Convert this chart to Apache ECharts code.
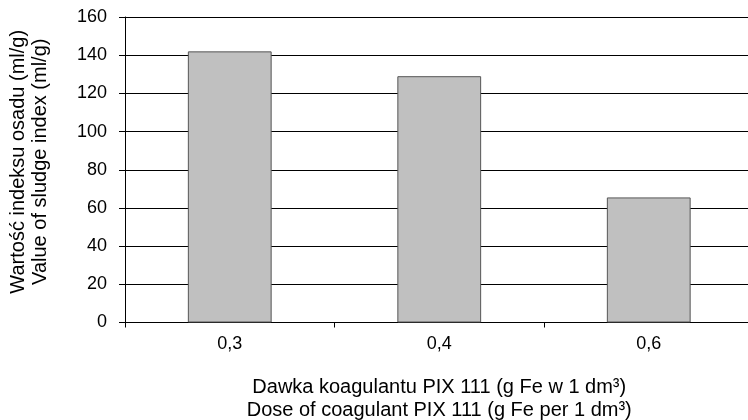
<!DOCTYPE html>
<html><head><meta charset="utf-8">
<script src="https://cdn.jsdelivr.net/npm/echarts@6/dist/echarts.min.js"></script>
<style>html,body{margin:0;padding:0;background:#fff}#c{width:748px;height:420px}</style>
</head><body><div id="c"></div>
<script>
const categories = ['0,3', '0,4', '0,6'];
const sludgeIndex = [142, 129, 65.5];
const yTicks = [0, 20, 40, 60, 80, 100, 120, 140, 160];
const xTitle = 'Dawka koagulantu PIX 111 (g Fe w 1 dm³)\nDose of coagulant PIX 111 (g Fe per 1 dm³)';
const yTitle = 'Wartość indeksu osadu (ml/g)\nValue of sludge index (ml/g)';

const font = 'Liberation Sans, Arial, sans-serif';
const chart = echarts.init(document.getElementById('c'), null, {renderer: 'canvas'});
chart.setOption({
  animation: false,
  backgroundColor: '#fff',
  grid: {left: 125, top: 17, bottom: 97.5, right: -5.5, containLabel: false, outerBoundsMode: 'none'},
  xAxis: {
    type: 'category',
    data: categories,
    axisLine: {show: true, lineStyle: {color: '#000', width: 1}},
    axisTick: {show: true, length: 5, lineStyle: {color: '#000'}},
    axisLabel: {color: '#000', fontSize: 18, fontFamily: font, margin: 13},
    splitLine: {show: false},
    name: xTitle,
    nameLocation: 'middle',
    nameGap: 54,
    nameTextStyle: {color: '#000', fontSize: 20, fontFamily: font, lineHeight: 22.6, verticalAlign: 'top'}
  },
  yAxis: {
    type: 'value',
    min: yTicks[0],
    max: yTicks[yTicks.length - 1],
    interval: 20,
    axisLine: {show: true, lineStyle: {color: '#000', width: 1}},
    axisTick: {show: true, length: 6, lineStyle: {color: '#000'}},
    axisLabel: {color: '#000', fontSize: 18, fontFamily: font, margin: 18},
    splitLine: {show: true, lineStyle: {color: '#000', width: 1}},
    name: yTitle,
    nameLocation: 'middle',
    nameGap: 73,
    nameRotate: 90,
    nameTextStyle: {color: '#000', fontSize: 20, fontFamily: font, lineHeight: 22.5, padding: [0, 0, 0, 16]}
  },
  series: [{
    type: 'bar',
    data: sludgeIndex,
    barWidth: '40%',
    itemStyle: {color: '#c0c0c0', borderColor: '#555', borderWidth: 1}
  }]
});
</script></body></html>
